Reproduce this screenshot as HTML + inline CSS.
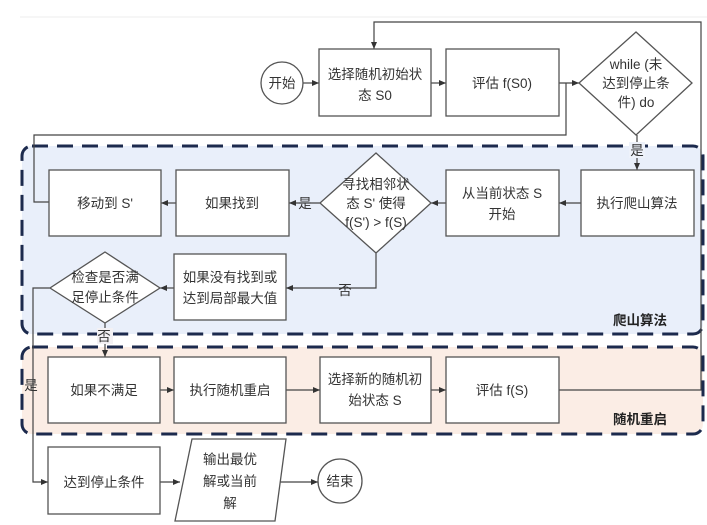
<!DOCTYPE html>
<html><head><meta charset="utf-8"><style>
body{margin:0;background:#fff}
svg{display:block}
text{font-family:"Liberation Sans","Noto Sans CJK SC",sans-serif;font-size:13.5px;fill:#333;text-anchor:middle}
.b{fill:#fff;stroke:#555;stroke-width:1.3}
.l{fill:none;stroke:#444;stroke-width:1.2}
</style></head><body>
<svg width="707" height="525" viewBox="0 0 707 525">
<defs><marker id="a" markerWidth="8" markerHeight="8" refX="7" refY="4" orient="auto" markerUnits="userSpaceOnUse"><path d="M0,1 L7,4 L0,7z" fill="#333"/></marker></defs>
<rect x="0" y="0" width="707" height="525" fill="#fff"/>
<line x1="20" y1="17" x2="707" y2="17" stroke="#eee"/>
<rect x="22" y="146" width="681" height="188" rx="10" fill="#e9effa" stroke="#1c2a4d" stroke-width="3" stroke-dasharray="16,9"/>
<rect x="22" y="347" width="681" height="87" rx="10" fill="#fbede5" stroke="#1c2a4d" stroke-width="3" stroke-dasharray="16,9"/>
<text x="640" y="325" style="font-weight:bold;fill:#222">爬山算法</text>
<text x="640" y="424" style="font-weight:bold;fill:#222">随机重启</text>
<path class="l" d="M559,390 H701 V22 H374 V49" marker-end="url(#a)"/>
<path class="l" d="M303,83 H319" marker-end="url(#a)"/>
<path class="l" d="M431,83 H446" marker-end="url(#a)"/>
<path class="l" d="M559,83 H579" marker-end="url(#a)"/>
<path class="l" d="M566,83 V135 H34 V202 H49"/>
<path class="l" d="M637,135 V170" marker-end="url(#a)"/>
<path class="l" d="M581,203 H559" marker-end="url(#a)"/>
<path class="l" d="M446,203 H431" marker-end="url(#a)"/>
<path class="l" d="M320,203 H289" marker-end="url(#a)"/>
<path class="l" d="M176,203 H161" marker-end="url(#a)"/>
<path class="l" d="M376,253 V288 H286" marker-end="url(#a)"/>
<path class="l" d="M174,288 H160" marker-end="url(#a)"/>
<path class="l" d="M50,288 H33 V482 H48" marker-end="url(#a)"/>
<path class="l" d="M105,323 V357" marker-end="url(#a)"/>
<path class="l" d="M160,390 H174" marker-end="url(#a)"/>
<path class="l" d="M286,390 H320" marker-end="url(#a)"/>
<path class="l" d="M431,390 H446" marker-end="url(#a)"/>
<path class="l" d="M160,482 H180" marker-end="url(#a)"/>
<path class="l" d="M280,482 H318" marker-end="url(#a)"/>
<rect x="629" y="142" width="16" height="16" fill="#eef2fa"/>
<text x="637" y="155">是</text>
<text x="305" y="208">是</text>
<text x="345" y="295">否</text>
<rect x="97" y="328" width="16" height="16" fill="#f3f1f4"/>
<text x="104" y="341">否</text>
<text x="31" y="390">是</text>
<ellipse class="b" cx="282" cy="83" rx="21" ry="21"/><text x="282" y="88">开始</text>
<rect class="b" x="319" y="49" width="112" height="67"/><text x="375" y="79">选择随机初始状</text><text x="375" y="100">态 S0</text>
<rect class="b" x="446" y="49" width="113" height="67"/><text x="502" y="88">评估 f(S0)</text>
<polygon class="b" points="636,32 692,83 636,135 579,83"/><text x="636" y="69">while (未</text><text x="636" y="88">达到停止条</text><text x="636" y="107">件) do</text>
<rect class="b" x="581" y="170" width="113" height="66"/><text x="637" y="208">执行爬山算法</text>
<rect class="b" x="446" y="170" width="113" height="66"/><text x="502" y="198">从当前状态 S</text><text x="502" y="219">开始</text>
<polygon class="b" points="376,153 431,203 376,253 320,203"/><text x="376" y="189">寻找相邻状</text><text x="376" y="208">态 S' 使得</text><text x="376" y="227">f(S') &gt; f(S)</text>
<rect class="b" x="176" y="170" width="113" height="66"/><text x="232" y="208">如果找到</text>
<rect class="b" x="49" y="170" width="112" height="66"/><text x="105" y="208">移动到 S'</text>
<rect class="b" x="174" y="254" width="112" height="66"/><text x="230" y="282">如果没有找到或</text><text x="230" y="303">达到局部最大值</text>
<polygon class="b" points="105,252 160,288 105,323 50,288"/><text x="105" y="282">检查是否满</text><text x="105" y="302">足停止条件</text>
<rect class="b" x="48" y="357" width="112" height="66"/><text x="104" y="395">如果不满足</text>
<rect class="b" x="174" y="357" width="112" height="66"/><text x="230" y="395">执行随机重启</text>
<rect class="b" x="320" y="357" width="111" height="66"/><text x="375" y="384">选择新的随机初</text><text x="375" y="405">始状态 S</text>
<rect class="b" x="446" y="357" width="113" height="66"/><text x="502" y="395">评估 f(S)</text>
<rect class="b" x="48" y="447" width="112" height="67"/><text x="104" y="487">达到停止条件</text>
<polygon class="b" points="192,439 286,439 275,521 175,521"/><text x="230" y="464">输出最优</text><text x="230" y="486">解或当前</text><text x="230" y="508">解</text>
<ellipse class="b" cx="340" cy="481" rx="22" ry="22"/><text x="340" y="486">结束</text>
</svg>
</body></html>
